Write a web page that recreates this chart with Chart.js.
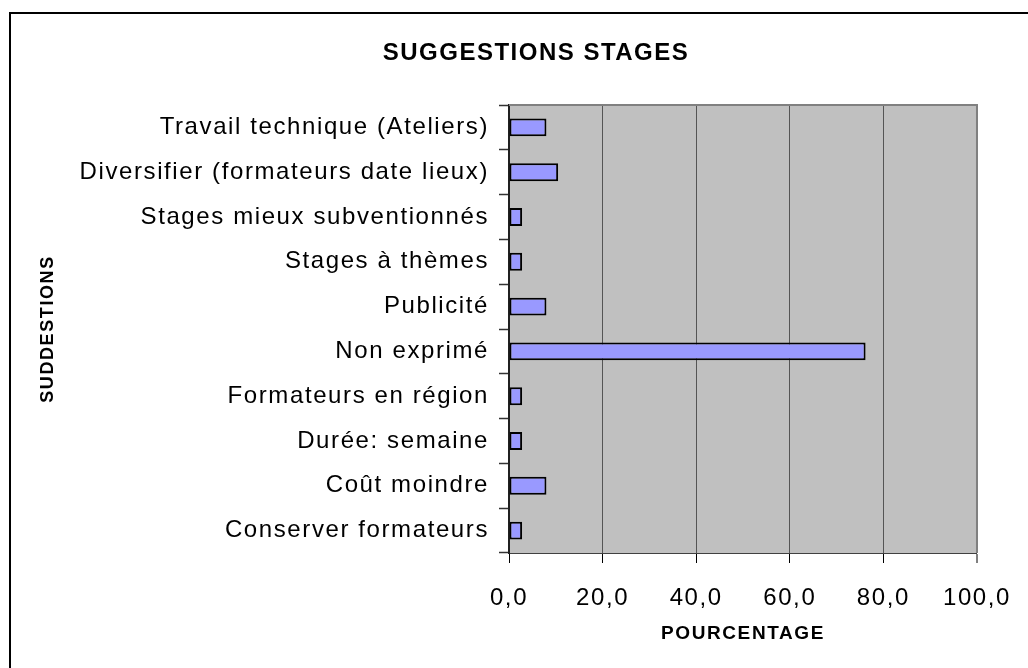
<!DOCTYPE html>
<html>
<head>
<meta charset="utf-8">
<script src="https://cdn.jsdelivr.net/npm/chart.js@4/dist/chart.umd.min.js"></script>
<style>
  html, body { margin: 0; padding: 0; background: #fff; }
  #wrap { width: 1028px; height: 668px; position: relative; }
</style>
</head>
<body>
<div id="wrap"><canvas id="chart"></canvas></div>
<script>
// Données
const categories = [
    'Travail technique (Ateliers)',
    'Diversifier (formateurs date lieux)',
    'Stages mieux subventionnés',
    'Stages à thèmes',
    'Publicité',
    'Non exprimé',
    'Formateurs en région',
    'Durée: semaine',
    'Coût moindre',
    'Conserver formateurs'
];
const pourcentages = [8.0, 10.5, 2.8, 2.8, 8.0, 76.2, 2.8, 2.8, 8.0, 2.8];
const xTicks = [0, 20, 40, 60, 80, 100];

const chartTitle = 'SUGGESTIONS STAGES';
const xTitle = 'POURCENTAGE';
const yTitle = 'SUDDESTIONS';

const FONT = '"Liberation Sans", Arial, sans-serif';

// Cadre, fond gris de la zone de tracé, titre
const decorPlugin = {
    id: 'decor',
    beforeDraw(chart) {
        const ctx = chart.ctx;
        const a = chart.chartArea;
        ctx.save();
        ctx.fillStyle = '#fff';
        ctx.fillRect(0, 0, chart.width, chart.height);
        // cadre extérieur (coupé à droite et en bas)
        ctx.strokeStyle = '#000';
        ctx.lineWidth = 2;
        ctx.beginPath();
        ctx.moveTo(10, chart.height);
        ctx.lineTo(10, 13);
        ctx.lineTo(chart.width, 13);
        ctx.stroke();
        // fond de la zone de tracé
        ctx.fillStyle = '#C0C0C0';
        ctx.fillRect(a.left, a.top, a.right - a.left, a.bottom - a.top);
        ctx.restore();
        ctx.letterSpacing = '1.6px';
    },
    beforeDatasetsDraw(chart) {
        const ctx = chart.ctx;
        const a = chart.chartArea;
        ctx.save();
        ctx.strokeStyle = '#808080';
        ctx.lineWidth = 2;
        ctx.beginPath();
        ctx.moveTo(a.left, a.top);
        ctx.lineTo(a.right, a.top);
        ctx.lineTo(a.right, a.bottom);
        ctx.stroke();
        ctx.restore();
    },
    afterDraw(chart) {
        const ctx = chart.ctx;
        ctx.save();
        ctx.letterSpacing = '1.5px';
        ctx.font = 'bold 24px ' + FONT;
        ctx.fillStyle = '#000';
        ctx.textAlign = 'center';
        ctx.textBaseline = 'middle';
        ctx.fillText(chartTitle, 536, 53);
        ctx.restore();
    }
};

new Chart(document.getElementById('chart'), {
    type: 'bar',
    data: {
        labels: categories,
        datasets: [{
            data: pourcentages,
            backgroundColor: '#9999FF',
            borderColor: '#000',
            borderWidth: 2,
            borderSkipped: false,
            barPercentage: 0.4,
            categoryPercentage: 1
        }]
    },
    options: {
        indexAxis: 'y',
        responsive: true,
        maintainAspectRatio: false,
        animation: false,
        layout: { padding: { top: 105, left: 10, right: 49, bottom: 0 } },
        plugins: {
            legend: { display: false },
            title: { display: false },
            tooltip: { enabled: false }
        },
        scales: {
            x: {
                min: 0,
                max: 100,
                afterBuildTicks(scale) {
                    scale.ticks = xTicks.map(v => ({ value: v }));
                },
                afterFit(scale) { scale.height = 115; },
                ticks: {
                    color: '#000',
                    padding: 21,
                    font: { family: FONT, size: 24 },
                    maxRotation: 0,
                    callback: v => Number(v).toFixed(1).replace('.', ',')
                },
                grid: {
                    color: ctx => (ctx.tick && ctx.tick.value === 100) ? '#808080' : '#555',
                    lineWidth: ctx => (ctx.tick && ctx.tick.value === 100) ? 2 : 1,
                    tickColor: '#000',
                    tickLength: 10,
                    tickWidth: 1
                },
                border: { color: '#404040', width: 1 },
                title: {
                    display: true,
                    text: xTitle,
                    color: '#000',
                    font: { family: FONT, size: 19, weight: 'bold' },
                    padding: { top: 0, bottom: 23 }
                }
            },
            y: {
                afterFit(scale) { scale.width = 499; },
                ticks: {
                    color: '#000',
                    padding: 10,
                    font: { family: FONT, size: 24 }
                },
                grid: {
                    offset: true,
                    drawOnChartArea: false,
                    tickColor: '#333',
                    tickLength: 10,
                    tickWidth: 1.5
                },
                border: { color: '#202020', width: 2 },
                title: {
                    display: true,
                    text: yTitle,
                    color: '#000',
                    font: { family: FONT, size: 18, weight: 'bold' },
                    padding: { top: 27, bottom: 0 }
                }
            }
        }
    },
    plugins: [decorPlugin]
});
</script>
</body>
</html>
